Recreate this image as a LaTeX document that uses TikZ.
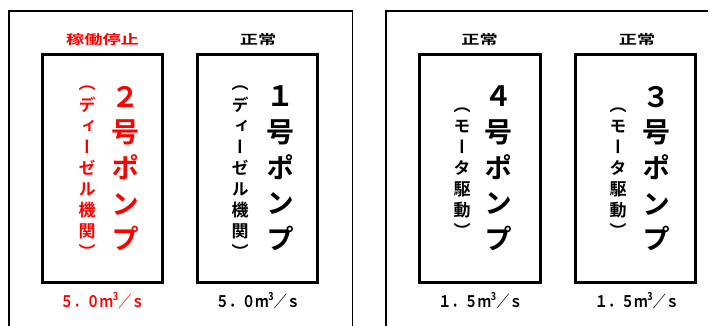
\documentclass[tikz,border=0pt]{standalone}
\usepackage{fontspec}
\newfontfamily\jp{Noto Sans CJK JP}[BoldFont={Noto Sans CJK JP Bold}]
\newfontfamily\jpv{Noto Sans CJK JP}[RawFeature=+vert,BoldFont={Noto Sans CJK JP Bold}]
\definecolor{stopred}{RGB}{255,0,0}
\newcommand{\cubed}{\raisebox{0.45em}{\fontsize{11}{11}\selectfont 3}}
\begin{document}
\begin{tikzpicture}[x=1pt,y=-1pt,
  frameline/.style={line width=1.6pt},
  pumpbox/.style={draw, line width=3pt, minimum width=120.3pt, minimum height=228.3pt, inner sep=0pt},
  statuslabel/.style={font=\jp\bfseries\fontsize{13}{13}\selectfont, xscale=1.4, inner sep=0pt},
  flowlabel/.style={font=\jp\bfseries\fontsize{16}{16}\selectfont, xscale=0.82, anchor=base, inner sep=0pt},
  bigcol/.style={font=\jpv\bfseries\fontsize{28}{35.7}\selectfont, align=center, inner sep=0pt},
  smallcol/.style={font=\jpv\bfseries\fontsize{17}{21.1}\selectfont, align=center, inner sep=0pt}]
\useasboundingbox (0,0) rectangle (718,325);
% frames
\coordinate (fl0) at (9,326);
\coordinate (fl1) at (9,11);
\coordinate (fl2) at (352.6,11);
\coordinate (fl3) at (352.6,326);
\draw[frameline] (fl0) -- (fl1) -- (fl2) -- (fl3);
\coordinate (fr0) at (386,326);
\coordinate (fr1) at (386,11);
\coordinate (fr2) at (708,11);
\draw[frameline] (fr0) -- (fr1) -- (fr2);
% boxes
\node[pumpbox] (b2) at (102.6,168.4) {};
\node[pumpbox] (b1) at (257.3,168.4) {};
\node[pumpbox] (b4) at (480,168.4) {};
\node[pumpbox] (b3) at (635.3,168.4) {};
% status labels
\node[statuslabel, text=stopred] (s2) at (102.5,40) {稼働停止};
\node[statuslabel] (s1) at (258,40) {正常};
\node[statuslabel] (s4) at (479.5,40) {正常};
\node[statuslabel] (s3) at (637,40) {正常};
% flow labels
\node[flowlabel, text=stopred] (f2) at (102.5,307.5) {５．０ｍ\cubed／ｓ};
\node[flowlabel] (f1) at (258,307.5) {５．０ｍ\cubed／ｓ};
\node[flowlabel] (f4) at (480.5,307.5) {１．５ｍ\cubed／ｓ};
\node[flowlabel] (f3) at (637,307.5) {１．５ｍ\cubed／ｓ};
% vertical texts
\node[bigcol, text=stopred] (n2) at (125,168.5) {２\\号\\ポ\\ン\\プ};
\node[smallcol, text=stopred] (d2) at (87,172.5) {（\\デ\\ィ\\ー\\ゼ\\ル\\機\\関\\）};
\node[bigcol] (n1) at (280,168.5) {１\\号\\ポ\\ン\\プ};
\node[smallcol] (d1) at (240,172.5) {（\\デ\\ィ\\ー\\ゼ\\ル\\機\\関\\）};
\node[bigcol] (n4) at (498,168.5) {４\\号\\ポ\\ン\\プ};
\node[smallcol] (d4) at (462,172.5) {（\\モ\\ー\\タ\\駆\\動\\）};
\node[bigcol] (n3) at (656,168.5) {３\\号\\ポ\\ン\\プ};
\node[smallcol] (d3) at (618,172.5) {（\\モ\\ー\\タ\\駆\\動\\）};
\end{tikzpicture}
\end{document}
